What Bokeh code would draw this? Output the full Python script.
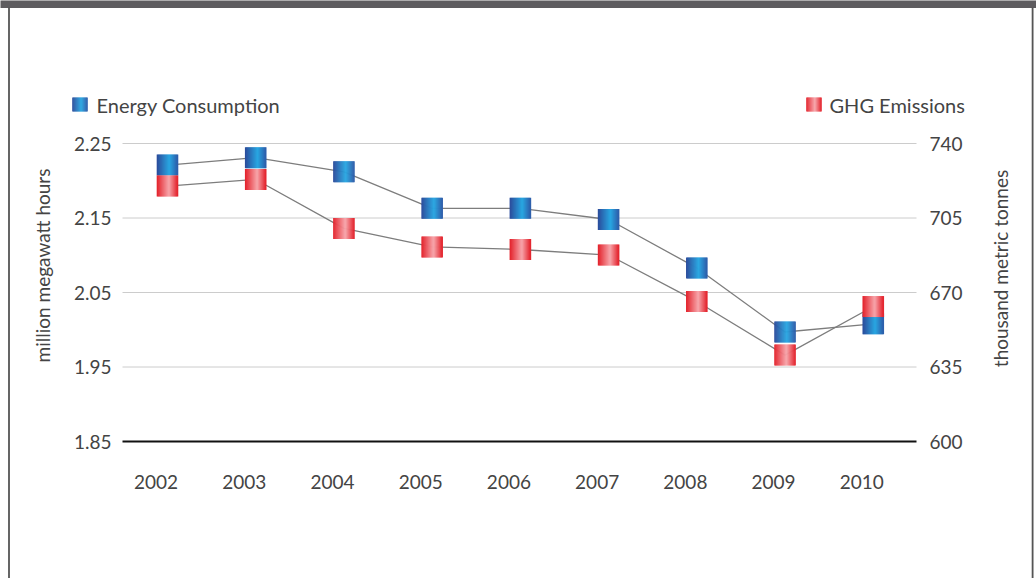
import numpy as np
from bokeh.plotting import figure
from bokeh.models import Range1d, ColumnDataSource
from bokeh.core.properties import value
from bokeh.embed import file_html
from bokeh.resources import INLINE

# ---- data ----
years = ["2002", "2003", "2004", "2005", "2006", "2007", "2008", "2009", "2010"]
energy = [2.221, 2.231, 2.212, 2.163, 2.163, 2.148, 2.083, 1.997, 2.008]   # million MWh
ghg = [720.0, 723.1, 700.1, 691.4, 690.2, 687.6, 665.8, 640.6, 663.4]      # thousand t
left_ticks = [1.85, 1.95, 2.05, 2.15, 2.25]
left_labels = ["1.85", "1.95", "2.05", "2.15", "2.25"]
right_ticks = [600, 635, 670, 705, 740]
right_labels = ["600", "635", "670", "705", "740"]
series_names = ["Energy Consumption", "GHG Emissions"]
left_title = "million megawatt hours"
right_title = "thousand metric tonnes"

# ---- layout (pixel geometry of the plotting area) ----
W, H = 1036, 578
FL, FR, FT, FB = 122, 916, 143, 441
NX = len(years)
Y0, Y1 = left_ticks[0], left_ticks[-1]
G0, G1 = right_ticks[0], right_ticks[-1]
PXU = (FR - FL) / NX


def px_x(px):
    return (px - FL) / PXU


def px_y(py):
    return Y1 - (py - FT) / (FB - FT) * (Y1 - Y0)


def px_g(py):
    return G1 - (py - FT) / (FB - FT) * (G1 - G0)


def hex2rgb(h):
    h = h.lstrip("#")
    return [int(h[i:i + 2], 16) for i in (0, 2, 4)]


def grad(stops, t):
    for (t0, c0), (t1, c1) in zip(stops[:-1], stops[1:]):
        if t0 <= t <= t1:
            f = (t - t0) / (t1 - t0) if t1 > t0 else 0
            a, b = hex2rgb(c0), hex2rgb(c1)
            return "#%02x%02x%02x" % tuple(int(round(a[i] + (b[i] - a[i]) * f)) for i in range(3))
    return stops[-1][1]


BLUE = [(0.0, "#2b4a9a"), (0.6, "#29a7e2"), (1.0, "#2d5ca9")]
RED = [(0.0, "#e31f29"), (0.58, "#f7a6ab"), (1.0, "#e31f29")]
NS = 21
MS = 21.0
FONT = "Lato"
FS = "19px"
TXT = "#444444"

p = figure(width=W, height=H,
           x_range=Range1d(px_x(0), px_x(W)), y_range=Range1d(px_y(H), px_y(0)),
           output_backend="svg", toolbar_location=None, min_border=0)
p.extra_y_ranges = {"ghg": Range1d(px_g(H), px_g(0))}
p.outline_line_color = None
p.background_fill_color = "white"
p.border_fill_color = "white"
p.xaxis.visible = False
p.yaxis.visible = False
p.grid.visible = False

xl, xr = px_x(FL), px_x(FR)

# horizontal grid lines (from left tick values)
p.segment(x0=[xl] * 4, x1=[xr] * 4, y0=left_ticks[1:], y1=left_ticks[1:],
          line_color="#cccccc", line_width=1)
# baseline
p.segment(x0=[xl], x1=[xr], y0=[left_ticks[0]], y1=[left_ticks[0]],
          line_color="#111111", line_width=2)

# tick labels
text_kw = dict(text_font=value(FONT), text_font_size=FS, text_color=TXT, text_baseline="middle")
p.text(x=[px_x(111)] * len(left_ticks), y=left_ticks, text=left_labels, text_align="right", **text_kw)
p.text(x=[px_x(929)] * len(right_ticks), y=right_ticks, text=right_labels, text_align="left",
       y_range_name="ghg", **text_kw)
p.text(x=[i + 0.38 for i in range(NX)], y=[px_y(481)] * NX, text=years, text_align="center", **text_kw)

xs = [i + 0.51 for i in range(NX)]

# connecting lines
p.line(xs, energy, line_color="#7d7d7d", line_width=1.3)
p.line(xs, ghg, line_color="#7d7d7d", line_width=1.3, y_range_name="ghg")


def strips(xv, vals, stops, w=MS, h=MS, n=NS, **kw):
    sw = w / n
    d = dict(x=[], y=[], c=[])
    for k in range(n):
        off = (-w / 2 + sw * (k + 0.5)) / PXU
        col = grad(stops, (k + 0.5) / n)
        for x, v in zip(xv, vals):
            d["x"].append(x + off)
            d["y"].append(v)
            d["c"].append(col)
    p.rect(x="x", y="y", width=(sw + 0.6) / PXU, height=h, height_units="screen",
           fill_color="c", line_color=None, source=ColumnDataSource(d), **kw)


strips(xs, energy, BLUE)
strips(xs, ghg, RED, y_range_name="ghg")

# legend
strips([px_x(79.5)], [px_y(104)], BLUE, w=15, h=14, n=15)
strips([px_x(813.5)], [px_y(104)], RED, w=15, h=14, n=15)
leg_kw = dict(text_kw)
leg_kw["text_font_size"] = "20px"
p.text(x=[px_x(96), px_x(829)], y=[px_y(104)] * 2, text=series_names, text_align="left", **leg_kw)

# axis titles
p.text(x=[px_x(42)], y=[px_y(265)], text=[left_title], angle=np.pi / 2, text_align="center", **text_kw)
p.text(x=[px_x(1000)], y=[px_y(268)], text=[right_title], angle=np.pi / 2, text_align="center", **text_kw)

# page frame decoration
p.quad(left=[px_x(-5)], right=[px_x(W + 5)], top=[px_y(-5)], bottom=[px_y(7.5)],
       fill_color="#5e5c5f", line_color=None)
p.quad(left=[px_x(7.6), px_x(1031.2)], right=[px_x(9.4), px_x(1033)],
       top=[px_y(7)] * 2, bottom=[px_y(H + 5)] * 2,
       fill_color="#555555", line_color=None)

open("out.html", "w").write(file_html(p, INLINE))
